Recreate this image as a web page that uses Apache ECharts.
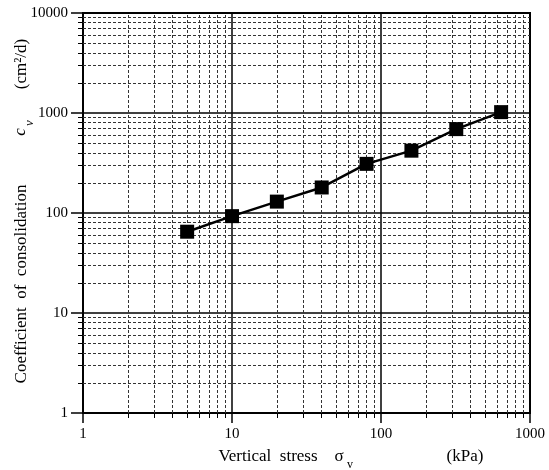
<!DOCTYPE html>
<html>
<head>
<meta charset="utf-8">
<style>
  html, body { margin: 0; padding: 0; background: #fff; }
  #chart { width: 549px; height: 470px; }
</style>
<script src="https://cdn.jsdelivr.net/npm/echarts@6/dist/echarts.min.js"></script>
</head>
<body>
<div id="chart"></div>
<script>
// data
const stressKPa = [5, 10, 20, 40, 80, 160, 320, 640];
const cvValues = [65, 93, 130, 180, 310, 420, 690, 1020];

// log grid helper values (2..9 in every decade)
const xDecades = [1, 10, 100];
const yDecades = [1, 10, 100, 1000];
const minorSteps = [2, 3, 4, 5, 6, 7, 8, 9];

const serif = "Liberation Serif";

const minorX = [];
xDecades.forEach((d) => minorSteps.forEach((m) => minorX.push({ xAxis: d * m })));
const minorY = [];
yDecades.forEach((d) => minorSteps.forEach((m) => minorY.push({ yAxis: d * m })));

const chart = echarts.init(document.getElementById("chart"));

chart.setOption({
  animation: false,
  backgroundColor: "#fff",
  grid: {
    left: 83,
    right: 19,
    top: 13,
    bottom: 57,
    show: true,
    borderColor: "#000",
    borderWidth: 2,
  },
  xAxis: {
    type: "log",
    logBase: 10,
    min: 1,
    max: 1000,
    axisLine: { show: true, lineStyle: { color: "#000", width: 2 } },
    axisTick: { show: true, inside: false, length: 10, lineStyle: { color: "#000", width: 1.5 } },
    minorTick: { show: true, splitNumber: 9, length: 5, lineStyle: { color: "#000", width: 1 } },
    axisLabel: { color: "#000", fontFamily: serif, fontSize: 15, margin: 14, formatter: (v) => String(v) },
    splitLine: { show: true, lineStyle: { color: "#000", width: 1.5 } },
  },
  yAxis: {
    type: "log",
    logBase: 10,
    min: 1,
    max: 10000,
    axisLine: { show: true, lineStyle: { color: "#000", width: 2 } },
    axisTick: { show: true, inside: false, length: 12, lineStyle: { color: "#000", width: 1.5 } },
    minorTick: { show: true, splitNumber: 9, length: 5, lineStyle: { color: "#000", width: 1 } },
    axisLabel: { color: "#000", fontFamily: serif, fontSize: 15, margin: 15, formatter: (v) => String(v) },
    splitLine: { show: true, lineStyle: { color: "#000", width: 1.5 } },
  },
  series: [
    {
      // minor log grid
      type: "line",
      data: [],
      silent: true,
      markLine: {
        silent: true,
        symbol: "none",
        label: { show: false },
        animation: false,
        lineStyle: { color: "#333", width: 1, type: [3, 2] },
        data: minorX.concat(minorY),
      },
    },
    {
      name: "cv",
      type: "line",
      data: stressKPa.map((x, i) => [x, cvValues[i]]),
      symbol: "rect",
      symbolSize: 14,
      itemStyle: { color: "#000" },
      lineStyle: { color: "#000", width: 2.5 },
      z: 5,
    },
  ],
  graphic: [
    {
      type: "text",
      x: 22, y: 284, rotation: Math.PI / 2,
      style: { text: "Coefficient  of  consolidation", font: "17px " + serif, fill: "#000", align: "center", verticalAlign: "middle" },
    },
    {
      type: "text",
      x: 21, y: 132, rotation: Math.PI / 2,
      style: { text: "c", font: "italic 17px " + serif, fill: "#000", align: "center", verticalAlign: "middle" },
    },
    {
      type: "text",
      x: 30, y: 123, rotation: Math.PI / 2,
      style: { text: "v", font: "italic 13px " + serif, fill: "#000", align: "center", verticalAlign: "middle" },
    },
    {
      type: "text",
      x: 22, y: 64, rotation: Math.PI / 2,
      style: { text: "(cm²/d)", font: "17px " + serif, fill: "#000", align: "center", verticalAlign: "middle" },
    },
    {
      type: "text",
      x: 268, y: 457,
      style: { text: "Vertical  stress", font: "17px " + serif, fill: "#000", align: "center", verticalAlign: "middle" },
    },
    {
      type: "text",
      x: 339, y: 457,
      style: { text: "σ", font: "17px " + serif, fill: "#000", align: "center", verticalAlign: "middle" },
    },
    {
      type: "text",
      x: 350, y: 465,
      style: { text: "v", font: "12px " + serif, fill: "#000", align: "center", verticalAlign: "middle" },
    },
    {
      type: "text",
      x: 465, y: 457,
      style: { text: "(kPa)", font: "17px " + serif, fill: "#000", align: "center", verticalAlign: "middle" },
    },
  ],
});
</script>
</body>
</html>
